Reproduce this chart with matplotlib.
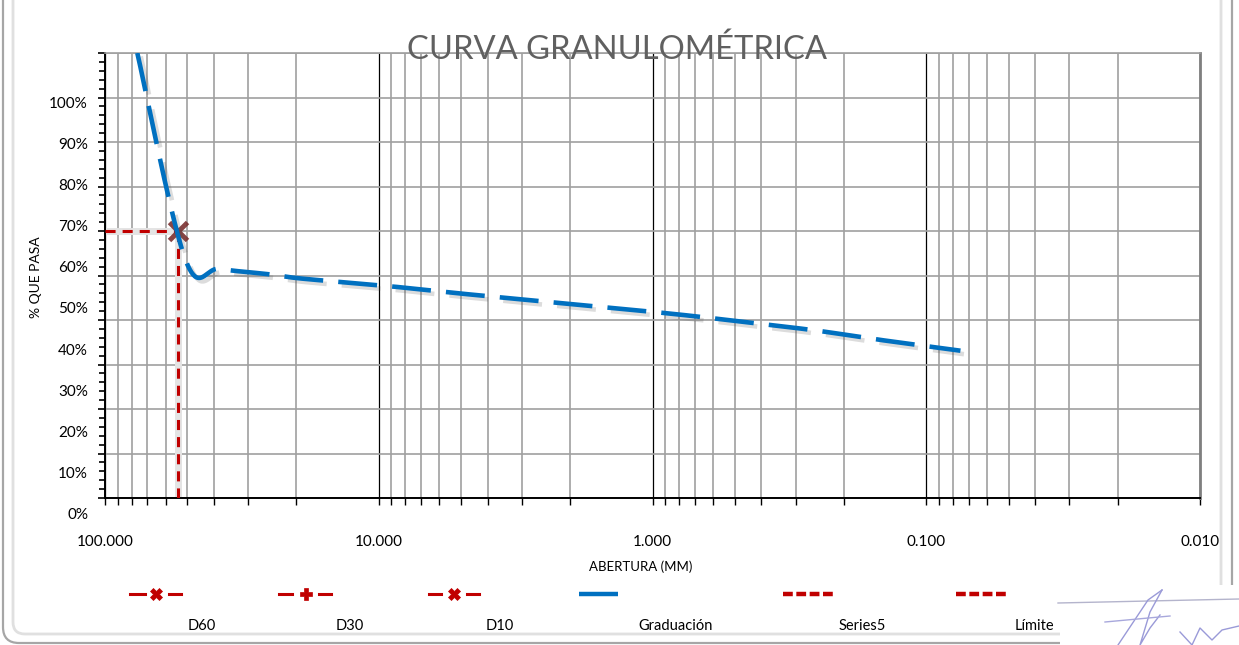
import numpy as np
import matplotlib
matplotlib.use("Agg")
import matplotlib.pyplot as plt
from matplotlib.patches import FancyBboxPatch, Rectangle
import matplotlib.patheffects as pe
from matplotlib.ticker import FixedLocator, NullFormatter, FuncFormatter

# ---------------- data ----------------
sieve_mm = [76.2, 50.8, 38.1, 25.4, 19.05, 9.525, 4.75, 2.0, 0.85, 0.425, 0.25, 0.15, 0.075]
passing_pct = [100.0, 53.5, 51.5, 50.3, 49.3, 47.7, 45.8, 43.6, 41.4, 39.3, 37.6, 35.6, 33.1]
d60_mm = 54.1
d60_pct = 60.0
x_major_ticks = [100, 10, 1, 0.1, 0.01]
y_tick_values = [0, 10, 20, 30, 40, 50, 60, 70, 80, 90, 100]
y_tick_labels = ["0%", "10%", "20%", "30%", "40%", "50%", "60%", "70%", "80%", "90%", "100%"]
title_text = "CURVA GRANULOMÉTRICA"
x_label = "ABERTURA (MM)"
y_label = "% QUE PASA"
legend_labels = ["D60", "D30", "D10", "Graduación", "Series5", "Límite"]

W, H = 1239, 645
FONT = "Lato"
RED = "#C00000"
BLUE = "#0070C0"
GRID = "#a0a0a0"

plt.rcParams["font.family"] = [FONT, "DejaVu Sans"]


def smooth_curve(xs, ys, n=40):
    """Excel-like smoothed line (Catmull-Rom Bezier) in log-x space."""
    P = np.column_stack([np.log10(xs), np.asarray(ys, float)])
    out = []
    for i in range(len(P) - 1):
        p0 = P[i - 1] if i > 0 else P[i]
        p1, p2 = P[i], P[i + 1]
        p3 = P[i + 2] if i + 2 < len(P) else P[i + 1]
        c1 = p1 + (p2 - p0) / 6.0
        c2 = p2 - (p3 - p1) / 6.0
        t = np.linspace(0, 1, n)[:, None]
        seg = (1 - t) ** 3 * p1 + 3 * (1 - t) ** 2 * t * c1 + 3 * (1 - t) * t ** 2 * c2 + t ** 3 * p2
        out.append(seg if i == 0 else seg[1:])
    S = np.vstack(out)
    return 10 ** S[:, 0], S[:, 1]


fig = plt.figure(figsize=(W / 100, H / 100), dpi=100)
fig.patch.set_facecolor("white")

# main axes (pixel layout: left 105, right 1200, top 53, bottom 498)
ax = fig.add_axes([105 / W, 1 - 498 / H, 1095 / W, 445 / H])
ax.set_xscale("log")
ax.set_xlim(100, 0.01)
ax.set_ylim(0, 100)
ax.set_axisbelow(True)

ax.xaxis.set_major_locator(FixedLocator(x_major_ticks))
minor = [m * 10.0 ** e for e in range(-2, 2) for m in range(2, 10)]
ax.xaxis.set_minor_locator(FixedLocator(minor))
ax.xaxis.set_major_formatter(FuncFormatter(lambda v, p: f"{v:.3f}"))
ax.xaxis.set_minor_formatter(NullFormatter())
ax.yaxis.set_major_locator(FixedLocator(y_tick_values))
ax.yaxis.set_minor_locator(FixedLocator(np.arange(0, 101, 2)))
ax.yaxis.set_major_formatter(NullFormatter())

ax.grid(which="major", axis="x", color="black", lw=0.9)
ax.grid(which="minor", axis="x", color=GRID, lw=1.2)
ax.grid(which="major", axis="y", color=GRID, lw=1.2)

ax.tick_params(axis="x", which="both", direction="out", length=5, width=1, color="black",
               labelsize=11, pad=22)
ax.tick_params(axis="y", which="major", direction="out", length=5, width=1.2, color="black")
ax.tick_params(axis="y", which="minor", direction="out", length=4, width=1.2, color="black")

for s in ("left", "bottom"):
    ax.spines[s].set_color("black")
    ax.spines[s].set_linewidth(1.4)
ax.spines["top"].set_color(GRID)
ax.spines["top"].set_linewidth(1.2)
ax.spines["right"].set_color("#7f7f7f")
ax.spines["right"].set_linewidth(2)

# y tick labels (placed as in the reference, slightly offset from grid)
for k, lab in enumerate(y_tick_labels):
    ypos = -3.82 + 0.9236 * y_tick_values[k]
    ax.text(-0.0155, ypos, lab, transform=ax.get_yaxis_transform(), ha="right", va="center",
            fontsize=11, clip_on=False)

# D60 guide lines
ax.plot([100, d60_mm], [d60_pct, d60_pct], color="#e4e4e4", lw=5, solid_capstyle="butt", zorder=2)
ax.plot([d60_mm, d60_mm], [0, d60_pct], color="#e4e4e4", lw=5, solid_capstyle="butt", zorder=2)
ax.plot([100, d60_mm], [d60_pct, d60_pct], color=RED, lw=2.2, dashes=(3.3, 2.3), zorder=3)
ax.plot([d60_mm, d60_mm], [0, d60_pct], color=RED, lw=2.2, dashes=(3.3, 2.3), zorder=3)
ax.plot([d60_mm], [d60_pct], marker="x", ms=13, mew=3.5, color="#7a3030", alpha=0.9,
        zorder=4, clip_on=False)

# gradation curve
sx, sy = smooth_curve(sieve_mm, passing_pct)
ax.plot(sx, sy, color=BLUE, lw=3.3, dashes=(8.5, 3.3), zorder=5,
        path_effects=[pe.SimpleLineShadow(offset=(2.5, -2.5), shadow_color="#505050", alpha=0.2),
                      pe.Normal()])

# texts
fig.text(617 / W, 1 - 50 / H, title_text, ha="center", va="center", fontsize=23.6,
         color="#606060")
fig.text(36 / W, 1 - 277 / H, y_label, rotation=90, ha="center", va="center", fontsize=10)
fig.text(641 / W, 1 - 567 / H, x_label, ha="center", va="center", fontsize=9.5)

# overlay axes in pixel coordinates for legend and frame
ov = fig.add_axes([0, 0, 1, 1], facecolor="none")
ov.set_xlim(0, W)
ov.set_ylim(H, 0)
ov.axis("off")

# frame
ov.add_patch(FancyBboxPatch((3, -60), 1229, 703, boxstyle="round,pad=0,rounding_size=16",
                            fill=False, ec="#a6a6a6", lw=1.6))
ov.add_patch(FancyBboxPatch((13, -60), 1208, 694, boxstyle="round,pad=0,rounding_size=12",
                            fill=False, ec="#e0e0e0", lw=2.0))
# signature image area
ov.add_patch(Rectangle((1060, 585), 185, 65, fc="white", ec="none", zorder=3))
ov.plot([1058, 1239], [603, 599], color="#b4b4cc", lw=1, zorder=4)
ov.plot([1118, 1148, 1162], [645, 600, 590], color="#9a9ad8", lw=1, zorder=4)
ov.plot([1162, 1150, 1140, 1150, 1160], [590, 612, 645, 628, 615], color="#9a9ad8", lw=1, zorder=4)
ov.plot([1105, 1170], [622, 616], color="#a8a8dc", lw=1, zorder=4)
ov.plot([1180, 1192, 1200, 1212, 1222, 1239], [632, 645, 628, 640, 630, 626], color="#9a9ad8",
        lw=1, zorder=4)

# legend
hy, ly = 594, 626
# D60
ov.plot([130, 145], [hy, hy], color=RED, lw=2.2)
ov.plot([169, 181], [hy, hy], color=RED, lw=2.2)
ov.plot([156], [hy], marker="X", ms=9, color=RED, mec=RED, mew=0.5)
# D30
ov.plot([279, 292], [hy, hy], color=RED, lw=2.2)
ov.plot([319, 331], [hy, hy], color=RED, lw=2.2)
ov.plot([305.5], [hy], marker="P", ms=8, color=RED, mec=RED, mew=0.5)
# D10
ov.plot([429, 441], [hy, hy], color=RED, lw=2.2)
ov.plot([467, 479], [hy, hy], color=RED, lw=2.2)
ov.plot([454], [hy], marker="X", ms=9, color=RED, mec=RED, mew=0.5)
# Graduación
ov.plot([579, 618], [hy, hy], color=BLUE, lw=3.2, solid_capstyle="butt")
# Series5, Límite
ov.plot([783, 834], [hy, hy], color=RED, lw=3.2, dashes=(2.2, 0.8))
ov.plot([956, 1007], [hy, hy], color=RED, lw=3.2, dashes=(2.2, 0.8))

label_x = [202, 350, 500, 676, 862, 1034]
for lx, lab in zip(label_x, legend_labels):
    ov.text(lx, ly, lab, ha="center", va="center", fontsize=10.5)

fig.savefig("out.png", dpi=100, facecolor="white")
